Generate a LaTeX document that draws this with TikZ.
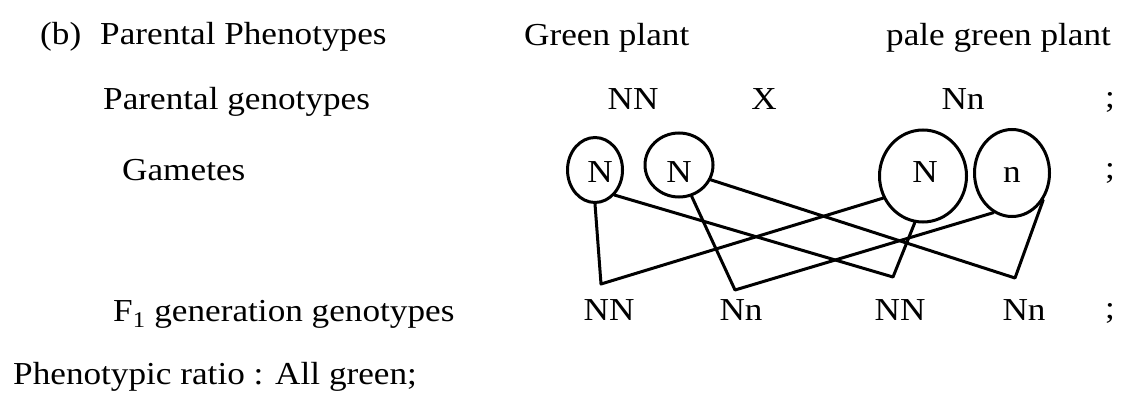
\documentclass[tikz,border=0pt]{standalone}
\usepackage{fontspec}
\setmainfont{Liberation Serif}[FakeStretch=1.1]
\usetikzlibrary{shapes.geometric, positioning}

\begin{document}
\begin{tikzpicture}[
    x=1pt, y=-1pt,
    txt/.style={inner sep=0pt, font=\fontsize{32}{38}\selectfont},
    row/.style={txt, anchor=base west},
    geno/.style={txt, anchor=base},
    gamete/.style={ellipse, draw, line width=3pt, inner sep=0pt},
    link/.style={line width=3pt, line join=round, line cap=round}
]
\useasboundingbox (0,0) rectangle (1131,401);
\node[row] (part) at (40,45) {(b)};
\node[row] (phen) at (100,45) {Parental Phenotypes};
\node[row] (green) at (524,46) {Green plant};
\node[row] (pale) at (886,46) {pale green plant};
\node[row] (pgen) at (103,110) {Parental genotypes};
\node[geno] (nn) at (633,110) {NN};
\node[geno] (cross) at (764,110) {X};
\node[geno] (nsmall) at (963,110) {Nn};
\node[geno] (semi1) at (1110,108) {;};
\node[row] (gam) at (122,180) {Gametes};
\node[gamete, minimum width=55, minimum height=65] (g1) at (595,170) {};
\node[gamete, minimum width=68, minimum height=64] (g2) at (679,165) {};
\node[gamete, minimum width=87, minimum height=92] (g3) at (923,176) {};
\node[gamete, minimum width=75, minimum height=87] (g4) at (1012,173) {};
\node[geno] (a1) at (600,182) {N};
\node[geno] (a2) at (679,182) {N};
\node[geno] (a3) at (925,182) {N};
\node[geno] (a4) at (1012,182) {n};
\node[geno] (semi2) at (1110,178) {;};
\node[row] (f1) at (113,321) {F\textsubscript{1} generation genotypes};
\node[geno] (o1) at (609,320) {NN};
\node[geno] (o2) at (741,320) {Nn};
\node[geno] (o3) at (900,320) {NN};
\node[geno] (o4) at (1024,320) {Nn};
\node[geno] (semi3) at (1110,318) {;};
\node[row] (ratio) at (13,384) {Phenotypic ratio : All green;};
\coordinate (b1) at (601,284);
\coordinate (b2) at (735,290);
\coordinate (b3) at (893,277);
\coordinate (b4) at (1015,278);
\draw[link] (g1.-90) -- (b1) -- (g3.-151);
\draw[link] (g1.-52) -- (b3) -- (g3.-100);
\draw[link] (g2.-68) -- (b2) -- (g4.-115);
\draw[link] (g2.-25) -- (b4) -- (g4.-41);
\end{tikzpicture}
\end{document}
